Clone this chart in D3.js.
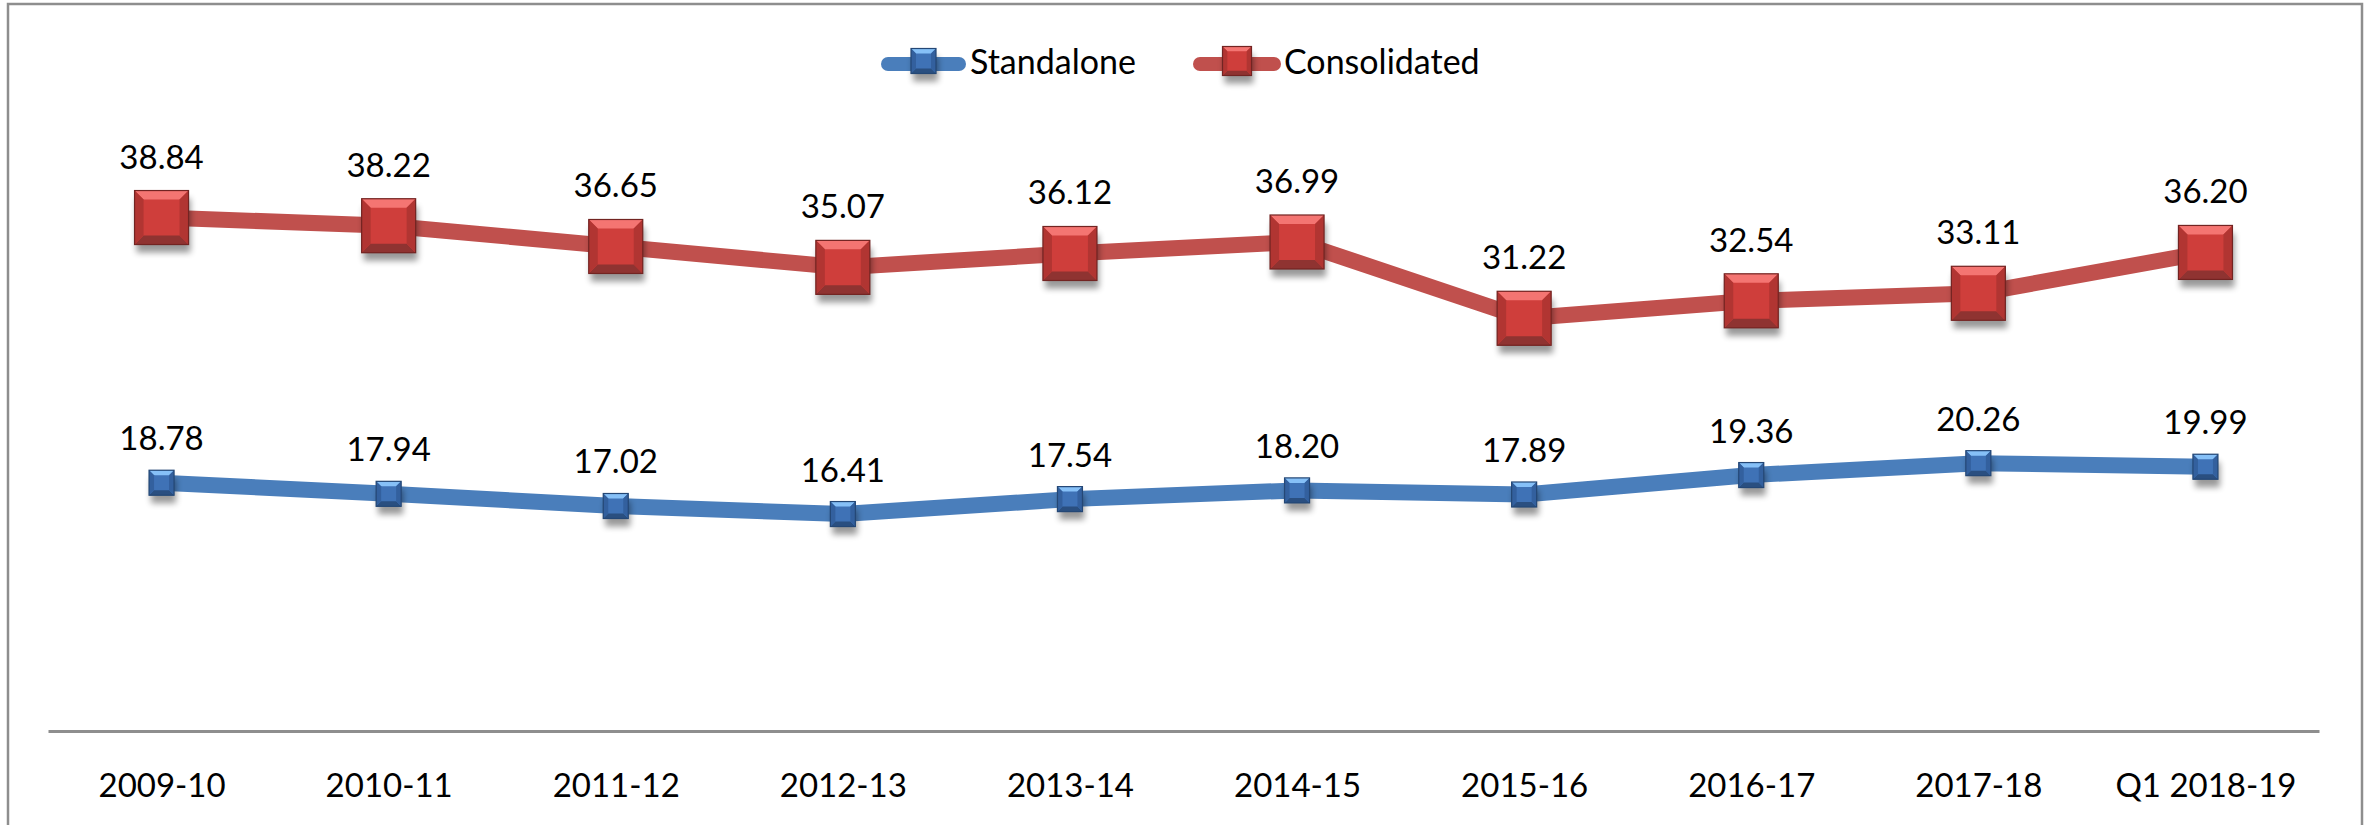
<!DOCTYPE html>
<html>
<head>
<meta charset="utf-8">
<script src="https://cdn.jsdelivr.net/npm/d3@7"></script>
<style>
  body { margin: 0; background: #fff; }
  text { font-family: Lato, "Open Sans", sans-serif; }
</style>
</head>
<body>
<svg id="chart"></svg>
<script>
var categories = ['2009-10', '2010-11', '2011-12', '2012-13', '2013-14', '2014-15', '2015-16', '2016-17', '2017-18', 'Q1 2018-19'];
var standalone = [18.78, 17.94, 17.02, 16.41, 17.54, 18.20, 17.89, 19.36, 20.26, 19.99];
var consolidated = [38.84, 38.22, 36.65, 35.07, 36.12, 36.99, 31.22, 32.54, 33.11, 36.20];
var seriesNames = ['Standalone', 'Consolidated'];

var width = 2374, height = 825;
var plot = { left: 48, right: 2319, top: 70, bottom: 731 };

// marker looks: size, bevel, colours
var looks = {
	Standalone: { line: '#4a7ebb', size: 25, bevel: 5, top: '#86c0f7', mid: '#3f72b6', side: '#33609e', bottom: '#2a4f80', edge: '#244775', labelGap: 20, legendSize: 25 },
	Consolidated: { line: '#c0504d', size: 54, bevel: 9, top: '#f47572', mid: '#cf3e3b', side: '#b13532', bottom: '#8f3331', edge: '#722422', labelGap: 22, legendSize: 29 }
};

var svg = d3.select('#chart')
	.attr('width', width)
	.attr('height', height);

var defs = svg.append('defs');
var blur = defs.append('filter')
	.attr('id', 'shadow')
	.attr('x', '-50%').attr('y', '-50%')
	.attr('width', '200%').attr('height', '200%');
blur.append('feGaussianBlur').attr('stdDeviation', 3);

svg.append('rect')
	.attr('width', width)
	.attr('height', height)
	.attr('fill', '#fff');

// chart frame (bottom edge is off the picture)
svg.append('rect')
	.attr('x', 8)
	.attr('y', 4)
	.attr('width', 2354)
	.attr('height', 900)
	.attr('fill', 'none')
	.attr('stroke', '#8e8e8e')
	.attr('stroke-width', 2.5);

var x = d3.scalePoint()
	.domain(categories)
	.range([plot.left, plot.right])
	.padding(0.5);

var y = d3.scaleLinear()
	.domain([0, 50])
	.range([plot.bottom, plot.top]);

var xAxis = svg.append('g')
	.attr('transform', 'translate(0,' + plot.bottom + ')')
	.call(d3.axisBottom(x).tickSize(0).tickSizeOuter(0));
xAxis.select('.domain')
	.attr('stroke', '#8e8e8e')
	.attr('stroke-width', 3);
xAxis.selectAll('.tick text')
	.attr('y', 66)
	.attr('dy', null)
	.attr('fill', '#000')
	.attr('font-size', '33px')
	.attr('font-family', 'Lato, sans-serif');

function drawMarker(g, look, size) {
	var h = size / 2, b = look.bevel * size / look.size;
	b = Math.max(b, 4);
	g.append('rect')
		.attr('x', -h + 2).attr('y', -h + 8)
		.attr('width', size).attr('height', size)
		.attr('fill', '#000').attr('opacity', 0.4)
		.attr('filter', 'url(#shadow)');
	g.append('rect')
		.attr('x', -h).attr('y', -h)
		.attr('width', size).attr('height', size)
		.attr('fill', look.mid);
	var pts = [
		[[-h, -h], [h, -h], [h - b, -h + b], [-h + b, -h + b], look.top],
		[[-h, h], [h, h], [h - b, h - b], [-h + b, h - b], look.bottom],
		[[-h, -h], [-h + b, -h + b], [-h + b, h - b], [-h, h], look.side],
		[[h, -h], [h - b, -h + b], [h - b, h - b], [h, h], look.side]
	];
	pts.forEach(function(p) {
		g.append('polygon')
			.attr('points', p.slice(0, 4).map(function(q) { return q.join(','); }).join(' '))
			.attr('fill', p[4]);
	});
	g.append('rect')
		.attr('x', -h).attr('y', -h)
		.attr('width', size).attr('height', size)
		.attr('fill', 'none')
		.attr('stroke', look.edge)
		.attr('stroke-width', 1.2);
}

var series = [
	{ name: seriesNames[0], values: standalone },
	{ name: seriesNames[1], values: consolidated }
];

var line = d3.line()
	.x(function(d, i) { return x(categories[i]); })
	.y(function(d) { return y(d); });

series.forEach(function(s) {
	var look = looks[s.name];
	svg.append('path')
		.datum(s.values)
		.attr('d', line)
		.attr('fill', 'none')
		.attr('stroke', look.line)
		.attr('stroke-width', 16)
		.attr('stroke-linejoin', 'round');
});

series.forEach(function(s) {
	var look = looks[s.name];
	var marks = svg.append('g').selectAll('g')
		.data(s.values)
		.join('g')
		.attr('transform', function(d, i) { return 'translate(' + x(categories[i]) + ',' + y(d) + ')'; });
	marks.each(function() { drawMarker(d3.select(this), look, look.size); });

	svg.append('g').selectAll('text')
		.data(s.values)
		.join('text')
		.attr('x', function(d, i) { return x(categories[i]); })
		.attr('y', function(d) { return y(d) - look.size / 2 - look.labelGap; })
		.attr('text-anchor', 'middle')
		.attr('font-size', '33px')
		.attr('fill', '#000')
		.text(function(d) { return d.toFixed(2); });
});

// legend
var legendItems = [
	{ name: seriesNames[0], x0: 881, x1: 966, tx: 970 },
	{ name: seriesNames[1], x0: 1193, x1: 1281, tx: 1284 }
];
legendItems.forEach(function(item) {
	var look = looks[item.name];
	var g = svg.append('g');
	g.append('line')
		.attr('x1', item.x0 + 7).attr('x2', item.x1 - 7)
		.attr('y1', 64).attr('y2', 64)
		.attr('stroke', look.line)
		.attr('stroke-width', 14)
		.attr('stroke-linecap', 'round');
	var m = g.append('g')
		.attr('transform', 'translate(' + (item.x0 + item.x1) / 2 + ',61)');
	drawMarker(m, look, look.legendSize);
	g.append('text')
		.attr('x', item.tx)
		.attr('y', 74)
		.attr('font-size', '34px')
		.attr('fill', '#000')
		.text(item.name);
});
</script>
</body>
</html>
